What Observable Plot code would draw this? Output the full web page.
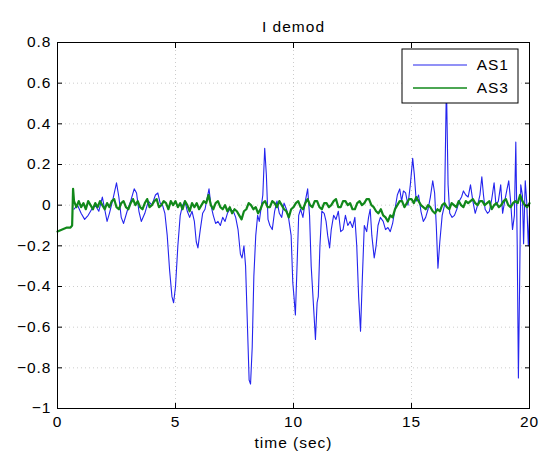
<!DOCTYPE html>
<html>
<head>
<meta charset="utf-8">
<script src="https://cdn.jsdelivr.net/npm/d3@7"></script>
<script src="https://cdn.jsdelivr.net/npm/@observablehq/plot@0.6"></script>
<style>
  body { margin: 0; background: #fff; }
  #chart svg { font-family: "Liberation Sans", Arial, Helvetica, sans-serif; letter-spacing: 1px; }
</style>
</head>
<body>
<div id="chart"></div>
<script>
// ---- data ----
const titleText = "I demod";
const xLabelText = "time (sec)";
const seriesNames = ["AS1", "AS3"];
const seriesColors = ["#2424ee", "#11881a"];
const xTicks = [0, 5, 10, 15, 20];
const yTicks = [-1, -0.8, -0.6, -0.4, -0.2, 0, 0.2, 0.4, 0.6, 0.8];

const as1Time = [
  0.70, 0.85, 1.00, 1.15, 1.30, 1.45, 1.60, 1.75, 1.90, 2.00, 2.10, 2.20, 2.35, 2.50, 2.60, 2.70, 2.80, 2.95,
  3.10, 3.25, 3.35, 3.45, 3.55, 3.70, 3.85, 4.00, 4.15, 4.25, 4.35, 4.45, 4.55, 4.65, 4.75, 4.85, 4.92, 5.00,
  5.10, 5.20, 5.30, 5.40, 5.50, 5.60, 5.70, 5.80, 5.88, 5.95, 6.05, 6.15, 6.25, 6.35, 6.42, 6.50, 6.60, 6.70,
  6.80, 6.90, 7.00, 7.10, 7.20, 7.30, 7.45, 7.55, 7.65, 7.75, 7.82, 7.90, 7.97, 8.05, 8.12, 8.18, 8.25, 8.32,
  8.40, 8.48, 8.55, 8.62, 8.70, 8.78, 8.85, 8.92, 9.00, 9.10, 9.20, 9.30, 9.40, 9.50, 9.60, 9.70, 9.80, 9.90,
  9.97, 10.02, 10.08, 10.15, 10.22, 10.30, 10.40, 10.50, 10.60, 10.68, 10.75, 10.85, 10.93, 11.00, 11.05, 11.12,
  11.20, 11.30, 11.38, 11.45, 11.53, 11.60, 11.70, 11.80, 11.90, 12.00, 12.10, 12.20, 12.30, 12.40, 12.50, 12.60,
  12.68, 12.76, 12.84, 12.92, 13.00, 13.10, 13.18, 13.25, 13.32, 13.42, 13.50, 13.58, 13.68, 13.80, 13.90, 14.00,
  14.10, 14.20, 14.30, 14.40, 14.50, 14.58, 14.66, 14.75, 14.85, 14.95, 15.05, 15.12, 15.20, 15.30, 15.40, 15.50,
  15.60, 15.70, 15.80, 15.90, 15.98, 16.05, 16.12, 16.20, 16.30, 16.40, 16.48, 16.55, 16.62, 16.72, 16.82, 16.92,
  17.02, 17.12, 17.20, 17.30, 17.40, 17.50, 17.60, 17.70, 17.80, 17.90, 17.98, 18.05, 18.12, 18.22, 18.30, 18.40,
  18.50, 18.58, 18.68, 18.78, 18.86, 18.95, 19.05, 19.12, 19.20, 19.28, 19.36, 19.42, 19.48, 19.53, 19.58, 19.63,
  19.70, 19.75, 19.82, 19.88, 19.95, 20.00
];
const as1Value = [
  -0.02, 0.00, -0.04, -0.07, -0.05, -0.02, 0.00, -0.03, 0.04, -0.02, -0.08, -0.04, 0.03, 0.11, 0.04, -0.06, -0.09, -0.03,
  0.02, 0.08, 0.06, -0.03, -0.08, -0.04, 0.02, 0.00, 0.05, 0.06, 0.01, 0.00, -0.04, -0.15, -0.32, -0.45, -0.48, -0.40,
  -0.20, -0.05, 0.00, 0.02, -0.03, -0.06, -0.03, -0.08, -0.18, -0.21, -0.12, -0.04, -0.02, 0.04, 0.08, 0.00, -0.05, -0.09,
  -0.08, -0.10, -0.06, -0.08, -0.04, -0.02, -0.03, -0.06, -0.12, -0.24, -0.26, -0.20, -0.30, -0.60, -0.86, -0.88, -0.70, -0.35,
  -0.15, -0.05, -0.08, -0.02, 0.05, 0.28, 0.15, -0.07, -0.10, -0.12, -0.03, 0.02, -0.04, -0.06, 0.01, -0.02, -0.07, -0.15,
  -0.38, -0.45, -0.54, -0.30, -0.05, -0.02, -0.06, 0.02, 0.08, -0.05, -0.30, -0.50, -0.66, -0.48, -0.45, -0.20,
  -0.03, -0.04, -0.08, -0.15, -0.21, -0.12, -0.05, -0.07, -0.03, -0.13, -0.12, -0.05, -0.10, -0.08, -0.11, -0.06,
  -0.20, -0.45, -0.62, -0.35, -0.10, -0.13, -0.06, -0.02, -0.15, -0.26, -0.20, -0.10, -0.06, -0.08, -0.12, -0.11,
  -0.13, -0.09, -0.02, 0.05, 0.08, 0.02, 0.07, 0.06, 0.00, 0.10, 0.23, 0.15, 0.02, 0.05, -0.03, -0.08,
  -0.06, -0.02, 0.04, 0.12, 0.06, -0.10, -0.31, -0.18, -0.05, 0.00, 0.60, 0.10, -0.04, -0.06, -0.05, -0.02,
  0.02, 0.04, 0.07, 0.05, 0.04, 0.10, 0.02, -0.04, 0.00, 0.05, 0.14, 0.05, -0.02, -0.04, -0.03, 0.03,
  0.11, 0.00, 0.02, 0.10, -0.04, 0.02, 0.08, 0.12, 0.02, -0.12, -0.05, 0.31, -0.20, -0.85, -0.40, 0.10,
  0.05, -0.19, 0.12, 0.02, -0.20, -0.05
];

const as3Time = [
  0.00, 0.20, 0.40, 0.55, 0.62, 0.66, 0.70, 0.80, 0.90, 1.00, 1.10, 1.20, 1.30, 1.40, 1.50, 1.60, 1.70, 1.80, 1.90,
  2.00, 2.10, 2.20, 2.30, 2.40, 2.50, 2.60, 2.70, 2.80, 2.90, 3.00, 3.10, 3.20, 3.30, 3.40, 3.50, 3.60, 3.70, 3.80, 3.90,
  4.00, 4.10, 4.20, 4.30, 4.40, 4.50, 4.60, 4.70, 4.80, 4.90, 5.00, 5.10, 5.20, 5.30, 5.40, 5.50, 5.60, 5.70, 5.80, 5.90,
  6.00, 6.10, 6.20, 6.30, 6.40, 6.50, 6.60, 6.70, 6.80, 6.90, 7.00, 7.10, 7.20, 7.30, 7.40, 7.50, 7.60, 7.70, 7.80, 7.90,
  8.00, 8.10, 8.20, 8.30, 8.40, 8.50, 8.60, 8.70, 8.80, 8.90, 9.00, 9.10, 9.20, 9.30, 9.40, 9.50, 9.60, 9.70, 9.80, 9.90,
  10.00, 10.10, 10.20, 10.30, 10.40, 10.50, 10.60, 10.70, 10.80, 10.90, 11.00, 11.10, 11.20, 11.30, 11.40, 11.50, 11.60, 11.70, 11.80, 11.90,
  12.00, 12.10, 12.20, 12.30, 12.40, 12.50, 12.60, 12.70, 12.80, 12.90, 13.00, 13.10, 13.20, 13.30, 13.40, 13.50, 13.60, 13.70, 13.80, 13.90,
  14.00, 14.10, 14.20, 14.30, 14.40, 14.50, 14.60, 14.70, 14.80, 14.90, 15.00, 15.10, 15.20, 15.30, 15.40, 15.50, 15.60, 15.70, 15.80, 15.90,
  16.00, 16.10, 16.20, 16.30, 16.40, 16.50, 16.60, 16.70, 16.80, 16.90, 17.00, 17.10, 17.20, 17.30, 17.40, 17.50, 17.60, 17.70, 17.80, 17.90,
  18.00, 18.10, 18.20, 18.30, 18.40, 18.50, 18.60, 18.70, 18.80, 18.90, 19.00, 19.10, 19.20, 19.30, 19.40, 19.50, 19.60, 19.70, 19.80, 19.90, 20.00
];
const as3Value = [
  -0.13, -0.12, -0.11, -0.11, -0.10, 0.08, 0.02, -0.01, 0.02, -0.01, 0.01, -0.02, 0.02, 0.00, -0.02, 0.01, -0.01, 0.02, 0.00,
  -0.02, 0.01, -0.01, 0.02, 0.03, -0.01, -0.02, 0.01, 0.02, -0.01, -0.02, 0.01, 0.03, 0.00, 0.02, -0.01, -0.02, 0.01, 0.03, -0.01,
  0.00, 0.02, 0.03, -0.01, 0.00, 0.02, 0.01, -0.02, 0.02, 0.00, 0.02, -0.01, 0.01, -0.02, 0.02, 0.00, -0.03, 0.01, -0.01, 0.01,
  -0.02, 0.00, 0.02, 0.01, 0.05, 0.00, -0.02, 0.01, 0.02, -0.01, -0.02, 0.00, -0.03, -0.01, -0.04, -0.02, -0.03, -0.05, -0.07, -0.03,
  -0.02, 0.01, 0.00, -0.02, -0.01, -0.04, -0.02, 0.01, 0.02, -0.01, -0.01, 0.02, 0.01, -0.01, 0.02, 0.00, -0.02, -0.03, -0.06, -0.02,
  -0.01, 0.01, 0.02, -0.01, -0.02, 0.01, 0.03, 0.00, -0.01, 0.02, 0.02, -0.01, -0.02, 0.01, 0.01, -0.01, 0.00, 0.02, 0.03, -0.01,
  -0.01, 0.02, 0.02, 0.00, 0.01, -0.02, -0.02, 0.01, 0.02, 0.00, 0.01, 0.03, 0.03, 0.00, -0.01, -0.03, -0.04, -0.02, -0.05, -0.06,
  -0.08, -0.05, -0.06, -0.02, 0.00, 0.02, 0.02, -0.01, 0.01, 0.03, 0.03, 0.01, 0.04, 0.02, 0.00, -0.01, -0.02, 0.00, -0.01, -0.03,
  -0.04, -0.02, -0.03, 0.00, 0.01, -0.01, -0.02, 0.01, 0.00, -0.01, 0.02, 0.00, -0.01, 0.02, 0.01, 0.02, 0.03, 0.01, 0.00, 0.02,
  0.02, 0.00, 0.01, 0.02, -0.02, 0.00, 0.01, -0.01, 0.00, 0.02, 0.03, 0.00, -0.01, 0.01, 0.02, 0.01, 0.05, 0.02, 0.00, -0.01, 0.01
];

// ---- build tables ----
const as1 = as1Time.map((t, i) => ({ t, v: as1Value[i] }));
const as3 = as3Time.map((t, i) => ({ t, v: as3Value[i] }));
const fmt = d3.format("");
const FS = 15.5;

const gridStyle = { stroke: "#aaa", strokeOpacity: 0.6, strokeDasharray: "1,3" };

const chart = Plot.plot({
  width: 539,
  height: 459,
  marginLeft: 57,
  marginRight: 10,
  marginTop: 42,
  marginBottom: 51,
  style: { fontFamily: '"Liberation Sans", Arial, sans-serif', fontSize: FS + "px", background: "#fff", color: "#000", overflow: "visible" },
  x: { domain: [0, 20] },
  y: { domain: [-1, 0.8] },
  marks: [
    Plot.gridX(xTicks, gridStyle),
    Plot.gridY(yTicks, gridStyle),
    Plot.line(as1, { x: "t", y: "v", stroke: seriesColors[0], strokeWidth: 1.1 }),
    Plot.line(as3, { x: "t", y: "v", stroke: seriesColors[1], strokeWidth: 2.2 }),
    // labels
    Plot.axisX(xTicks, { anchor: "bottom", tickSize: 0, tickPadding: 7, tickFormat: fmt, label: null, fontSize: FS }),
    Plot.axisY(yTicks, { anchor: "left", tickSize: 0, tickPadding: 6, tickFormat: fmt, label: null, fontSize: FS }),
    // inward ticks on all four sides
    Plot.axisX(xTicks, { anchor: "bottom", tickSize: -5, fill: "none", label: null }),
    Plot.axisX(xTicks, { anchor: "top", tickSize: -5, fill: "none", label: null }),
    Plot.axisY(yTicks, { anchor: "left", tickSize: -5, fill: "none", label: null }),
    Plot.axisY(yTicks, { anchor: "right", tickSize: -5, fill: "none", label: null }),
    Plot.frame({ stroke: "#000" }),
    Plot.text([titleText], { frameAnchor: "top", dy: -22, fontSize: FS }),
    Plot.text([xLabelText], { frameAnchor: "bottom", dy: 39, fontSize: FS })
  ]
});

// ---- legend (MATLAB-style box, top right inside the axes) ----
const svg = d3.select(chart);
const lg = svg.append("g").attr("transform", "translate(402,49)");
lg.append("rect").attr("width", 116).attr("height", 54)
  .attr("fill", "#fff").attr("stroke", "#000").attr("stroke-width", 1);
seriesNames.forEach((name, i) => {
  const y = 16 + i * 23;
  lg.append("line").attr("x1", 11).attr("x2", 65).attr("y1", y).attr("y2", y)
    .attr("stroke", seriesColors[i]).attr("stroke-width", i === 0 ? 1.1 : 1.5);
  lg.append("text").attr("x", 107).attr("y", y).attr("dy", "0.35em")
    .attr("text-anchor", "end").attr("font-size", FS).attr("fill", "#000").text(name);
});

document.getElementById("chart").appendChild(chart);
</script>
</body>
</html>
